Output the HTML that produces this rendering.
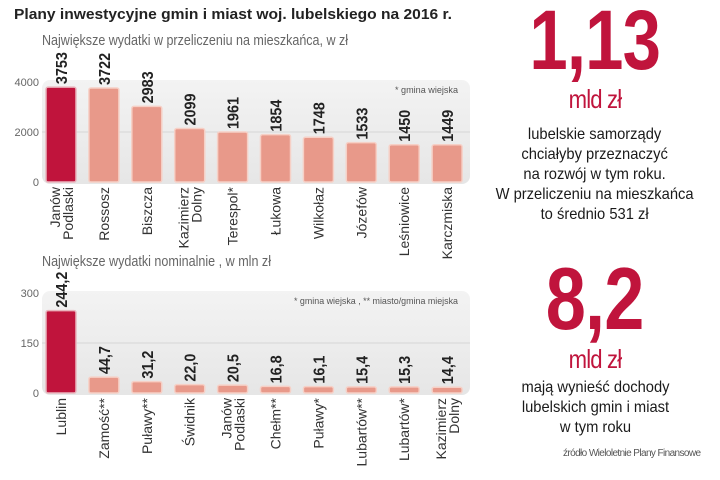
<!DOCTYPE html>
<html><head><meta charset="utf-8">
<style>
html,body{margin:0;padding:0;background:#fff;}
body{width:720px;height:480px;overflow:hidden;position:relative;font-family:"Liberation Sans",sans-serif;}
svg{position:absolute;left:0;top:0;}
.rt{position:absolute;left:500px;width:190px;text-align:center;color:#222;}
</style></head><body>
<svg width="720" height="480" id="svg">
<defs>
<linearGradient id="bg" x1="0" y1="0" x2="0" y2="1"><stop offset="0" stop-color="#f3f3f3"/><stop offset="1" stop-color="#e6e6e6"/></linearGradient>
</defs>
<text x="14" y="19" font-size="15" font-weight="bold" fill="#222" textLength="438" lengthAdjust="spacingAndGlyphs">Plany inwestycyjne gmin i miast woj. lubelskiego na 2016 r.</text>
<text x="42" y="45" font-size="15" fill="#666" textLength="306" lengthAdjust="spacingAndGlyphs">Największe wydatki w przeliczeniu na mieszkańca, w zł</text>
<text x="42" y="266" font-size="15" fill="#666" textLength="229" lengthAdjust="spacingAndGlyphs">Największe wydatki nominalnie , w mln zł</text>
<g id="c1"></g><g id="c2"></g>
</svg>

<div class="rt" style="top:-8px;left:480px;width:230px;font-size:84px;font-weight:bold;color:#c0143c;letter-spacing:-1px;"><span style="display:inline-block;transform:scaleX(0.82)">1,13</span></div>
<div class="rt" style="top:84px;left:480px;width:230px;font-size:26px;color:#c0143c;letter-spacing:-1px;"><span style="display:inline-block;transform:scaleX(0.85)">mld zł</span></div>
<div class="rt" style="top:125px;left:480px;width:230px;font-size:16px;line-height:20px;color:#1a1a1a;"><span style="display:inline-block;transform:scaleX(0.92)">lubelskie samorządy<br>chciałyby przeznaczyć<br>na rozwój w tym roku.<br>W przeliczeniu na mieszkańca<br>to średnio 531 zł</span></div>
<div class="rt" style="top:248px;left:480px;width:230px;font-size:88px;font-weight:bold;color:#c0143c;letter-spacing:-1px;"><span style="display:inline-block;transform:scaleX(0.82)">8,2</span></div>
<div class="rt" style="top:344px;left:480px;width:230px;font-size:26px;color:#c0143c;letter-spacing:-1px;"><span style="display:inline-block;transform:scaleX(0.85)">mld zł</span></div>
<div class="rt" style="top:378px;left:480px;width:230px;font-size:16px;line-height:20px;color:#1a1a1a;"><span style="display:inline-block;transform:scaleX(0.92)">mają wynieść dochody<br>lubelskich gmin i miast<br>w tym roku</span></div>
<div class="rt" style="top:448px;left:563px;width:160px;font-size:10px;color:#555;text-align:left;letter-spacing:-0.6px;white-space:nowrap;">źródło Wieloletnie Plany Finansowe</div>

<script>
const cats1 = [["Janów","Podlaski"],["Rossosz"],["Biszcza"],["Kazimierz","Dolny"],["Terespol*"],["Łukowa"],["Wilkołaz"],["Józefów"],["Leśniowice"],["Karczmiska"]];
const vals1 = [3753,3722,2983,2099,1961,1854,1748,1533,1450,1449];
const lbls1 = ["3753","3722","2983","2099","1961","1854","1748","1533","1450","1449"];
const ticks1 = [0,2000,4000];
const cats2 = [["Lublin"],["Zamość**"],["Puławy**"],["Świdnik"],["Janów","Podlaski"],["Chełm**"],["Puławy*"],["Lubartów**"],["Lubartów*"],["Kazimierz","Dolny"]];
const vals2 = [244.2,44.7,31.2,22.0,20.5,16.8,16.1,15.4,15.3,14.4];
const lbls2 = ["244,2","44,7","31,2","22,0","20,5","16,8","16,1","15,4","15,3","14,4"];
const ticks2 = [0,150,300];

const NS="http://www.w3.org/2000/svg";
function mk(parent,tag,attrs,text){const e=document.createElementNS(NS,tag);for(const k in attrs)e.setAttribute(k,attrs[k]);if(text!==undefined)e.textContent=text;parent.appendChild(e);return e;}
function xPos(i){return 61+i*42.9;}

function draw(gid,cats,vals,lbls,ticks,y0,ymax,pxH,note,noteLen,prefix){
  const g=document.getElementById(gid);
  const y=v=>y0-v/ymax*pxH;
  const bgTop=y(ticks[ticks.length-1])-2;
  const bg=mk(g,'rect',{x:42,y:bgTop,width:428,height:y0-bgTop+2,rx:8,fill:'url(#bg)'});
  
  
  ticks.forEach(t=>{
    if(t>0&&t<ticks[ticks.length-1]){
      const l=mk(g,'line',{x1:42,x2:470,y1:y(t),y2:y(t),stroke:'#d6d6d6','stroke-width':1});
      
      
    }
    const tx=mk(g,'text',{x:39,y:y(t)+4,'font-size':11,fill:'#666','text-anchor':'end'},String(t));
    
    
  });
  const n=mk(g,'text',{x:458,y:bgTop+13,'font-size':9.5,fill:'#555','text-anchor':'end',textLength:noteLen,lengthAdjust:'spacingAndGlyphs'},note);
  
  
  vals.forEach((v,i)=>{
    const cx=xPos(i), top=y(v);
    const r=mk(g,'rect',{x:cx-15,y:top-1,width:30,height:y0-top+1,rx:2,fill:i===0?'#c0143c':'#e8998a',stroke:i===0?'#e9b5bd':'#f6d0c6','stroke-width':1.5});
    
    
    const vl=mk(g,'text',{x:0,y:0,'font-size':16,'font-weight':'bold',fill:'#222',transform:`translate(${cx+6},${top-4}) rotate(-90) scale(0.9,1)`},lbls[i]);
    
    
    const c=cats[i];
    c.forEach((s,j)=>{
      const off=c.length===1?5:(j===0?-1:12);
      const cl=mk(g,'text',{x:0,y:0,'font-size':14,fill:'#333','text-anchor':'end',transform:`translate(${cx+off},${y0+5}) rotate(-90)`},s);
      
      
    });
  });
}
draw('c1',cats1,vals1,lbls1,ticks1,182,4000,100,'* gmina wiejska',63,'chart1');
draw('c2',cats2,vals2,lbls2,ticks2,393,300,100,'* gmina wiejska , ** miasto/gmina miejska',164,'chart2');
</script>
</body></html>
